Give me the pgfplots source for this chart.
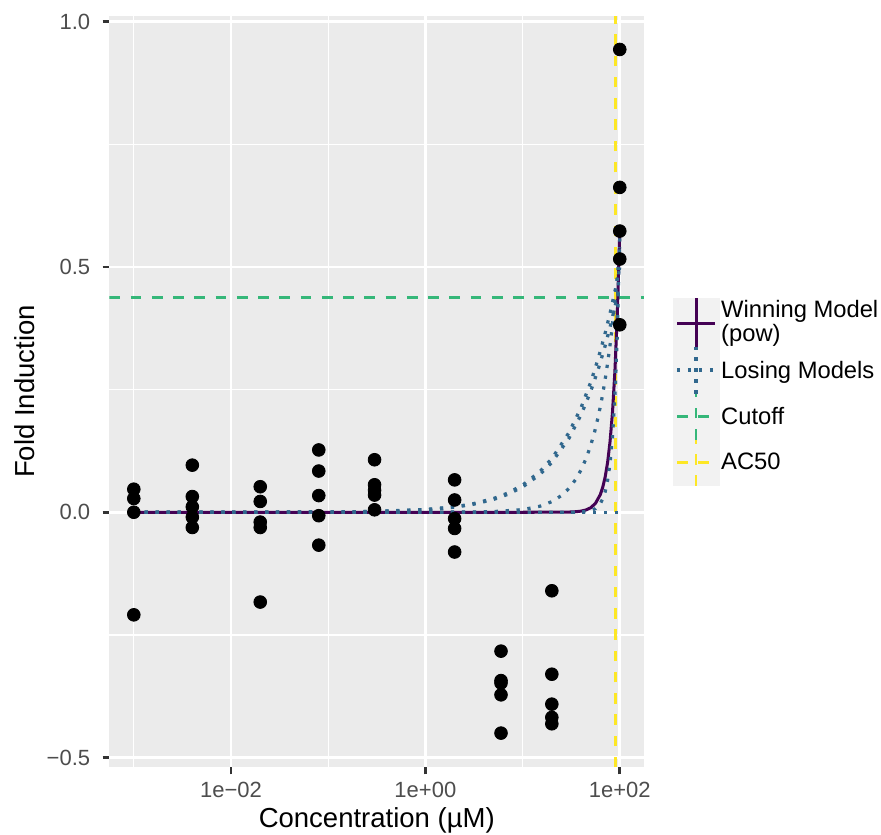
\documentclass[border=0pt]{standalone}
\usepackage{pgfplots}
\pgfplotsset{compat=1.18}
\usepackage{fontspec}
\setmainfont{Liberation Sans}
\definecolor{panel}{HTML}{EBEBEB}
\definecolor{keybg}{HTML}{F2F2F2}
\definecolor{vir1}{HTML}{440154}
\definecolor{vir2}{HTML}{31688E}
\definecolor{vir3}{HTML}{35B779}
\definecolor{vir4}{HTML}{FDE725}
\definecolor{tickc}{HTML}{4D4D4D}
\definecolor{tickm}{HTML}{333333}
\tikzset{
  ggdot/.style={line width=1.55pt, dash pattern=on 1.55pt off 3.7pt},
  ggdash/.style={line width=1.3pt, dash pattern=on 5.1pt off 5.1pt},
}
\begin{document}
\begin{tikzpicture}
\begin{axis}[
  at={(52.56pt,32.4pt)}, anchor=south west,
  scale only axis, width=256.6pt, height=360.9pt,
  xmode=log, log basis x=10,
  xmin=5.623e-4, xmax=177.8, ymin=-0.520, ymax=1.012,
  axis background/.style={fill=panel},
  axis line style={draw=none},
  xtick={0.01,1,100}, xticklabels={1e−02,1e+00,1e+02},
  ytick={-0.5,0,0.5,1}, yticklabels={−0.5,0.0,0.5,1.0},
  minor xtick={0.001,0.1,10}, minor ytick={-0.25,0.25,0.75},
  grid=both,
  major grid style={white, line width=1.28pt},
  minor grid style={white, line width=0.64pt},
  tick align=outside, xtick pos=left, ytick pos=left,
  major tick length=3.3pt, minor tick length=0pt,
  tick style={tickm, line width=1.28pt},
  xticklabel style={font=\fontsize{10.56}{12}\selectfont, text=tickc, anchor=base, inner sep=0pt, yshift=-11.3pt},
  yticklabel style={font=\fontsize{10.56}{12}\selectfont, text=tickc, anchor=east, inner sep=0pt, xshift=-5.8pt},
  xlabel={Concentration (µM)}, ylabel={Fold Induction},
  xlabel style={font=\fontsize{13.2}{15}\selectfont, at={(axis description cs:0.5,-0.0804)}, anchor=base},
  ylabel style={font=\fontsize{13.2}{15}\selectfont, at={(axis description cs:-0.1395,0.5)}, anchor=base},
  clip=true,
]
% cutoff
\addplot[vir3, ggdash] coordinates {(5.623e-4,0.438) (177.8,0.438)};
% AC50
\addplot[vir4, ggdash] coordinates {(91,-0.520) (91,1.012)};
% winning model (pow)
\addplot[vir1, line width=1.45pt] coordinates {
(0.001,0) (1,0) (10,0.0000006) (25.12,0.000144) (31.62,0.000572) (35.48,0.00114)
(39.81,0.00228) (44.67,0.00454) (50.12,0.00907) (56.23,0.0181) (63.10,0.0361)
(66.83,0.0510) (70.79,0.0720) (74.99,0.1017) (79.43,0.1437) (84.14,0.2030)
(89.13,0.2867) (94.41,0.4049) (100,0.572)};
% losing models
\addplot[vir2, ggdot] coordinates {(0.001,0) (100,0)};
\addplot[vir2, ggdot] coordinates {
(0.001,0.0000056) (0.01,0.000056) (0.1,0.00056) (0.3,0.00168) (1,0.0056) (2,0.0112)
(3,0.0167) (5,0.0278) (7,0.0389) (10,0.0553) (15,0.0825) (20,0.1093) (30,0.1621)
(40,0.2135) (50,0.2639) (60,0.3132) (70,0.3612) (80,0.4082) (90,0.4540) (100,0.4989)};
\addplot[vir2, ggdot] coordinates {
(0.001,0.0000052) (0.01,0.000052) (0.1,0.00052) (0.3,0.00156) (1,0.0052) (2,0.0104)
(3,0.0155) (5,0.0259) (7,0.0362) (10,0.0514) (15,0.0767) (20,0.1016) (30,0.1507)
(40,0.1986) (50,0.2454) (60,0.2911) (70,0.3357) (80,0.3796) (90,0.4221) (100,0.4640)};
\addplot[vir2, ggdot] coordinates {
(0.001,0) (1,0.000054) (3,0.0005) (5,0.00135) (10,0.0054) (15,0.01215) (20,0.0216)
(25,0.03375) (30,0.0486) (35,0.06615) (40,0.0864) (45,0.10935) (50,0.135) (55,0.16335)
(60,0.1944) (65,0.22815) (70,0.2646) (75,0.30375) (80,0.3456) (85,0.39015) (90,0.4374)
(95,0.48735) (100,0.54)};
\addplot[vir2, ggdot] coordinates {
(0.001,0) (10,0) (31.62,0.0001) (39.81,0.00056) (44.67,0.00133) (50.12,0.00315)
(56.23,0.00747) (63.10,0.0177) (66.83,0.0273) (70.79,0.042) (74.99,0.0647)
(79.43,0.0996) (84.14,0.1534) (89.13,0.236) (94.41,0.3637) (100,0.56)};
% observations
\addplot[only marks, mark=*, mark size=3.05pt, black] table[row sep=\\] {
x y\\
0.001 0.047\\ 0.001 0.028\\ 0.001 0.0\\ 0.001 -0.209\\
0.004 0.096\\ 0.004 0.032\\ 0.004 0.011\\ 0.004 -0.010\\ 0.004 -0.031\\
0.02 0.052\\ 0.02 0.022\\ 0.02 -0.020\\ 0.02 -0.031\\ 0.02 -0.183\\
0.08 0.127\\ 0.08 0.084\\ 0.08 0.034\\ 0.08 -0.007\\ 0.08 -0.067\\
0.3 0.107\\ 0.3 0.056\\ 0.3 0.045\\ 0.3 0.035\\ 0.3 0.005\\
2 0.066\\ 2 0.025\\ 2 -0.013\\ 2 -0.033\\ 2 -0.081\\
6 -0.283\\ 6 -0.343\\ 6 -0.348\\ 6 -0.372\\ 6 -0.450\\
20 -0.160\\ 20 -0.330\\ 20 -0.391\\ 20 -0.418\\ 20 -0.431\\
100 0.943\\ 100 0.662\\ 100 0.573\\ 100 0.516\\ 100 0.382\\
};
\end{axis}
% legend
\fill[keybg] (322.9pt,167.5pt) rectangle (345.6pt,257.9pt);
\draw[vir1, line width=1.45pt] (325pt,245.6pt) -- (343.2pt,245.6pt);
\draw[vir1, line width=1.45pt] (334.1pt,234pt) -- (334.1pt,257.9pt);
\draw[vir2, ggdot] (325pt,223.2pt) -- (343.2pt,223.2pt);
\draw[vir2, ggdot] (334.1pt,211.9pt) -- (334.1pt,234pt);
\draw[vir3, ggdash] (325pt,200.8pt) -- (343.2pt,200.8pt);
\draw[vir3, ggdash] (334.1pt,189.8pt) -- (334.1pt,211.9pt);
\draw[vir4, ggdash] (325pt,178.9pt) -- (343.2pt,178.9pt);
\draw[vir4, ggdash] (334.1pt,167.5pt) -- (334.1pt,189.8pt);
\begin{scope}[every node/.style={anchor=base west, inner sep=0pt, font=\fontsize{11.4}{13}\selectfont}]
\node at (346pt,248.5pt) {Winning Model};
\node at (346pt,236.8pt) {(pow)};
\node at (346pt,218.9pt) {Losing Models};
\node at (346pt,197.1pt) {Cutoff};
\node at (346pt,175.2pt) {AC50};
\end{scope}
\pgfresetboundingbox
\path (0,0) rectangle (422.9pt,400.8pt);
\end{tikzpicture}
\end{document}
